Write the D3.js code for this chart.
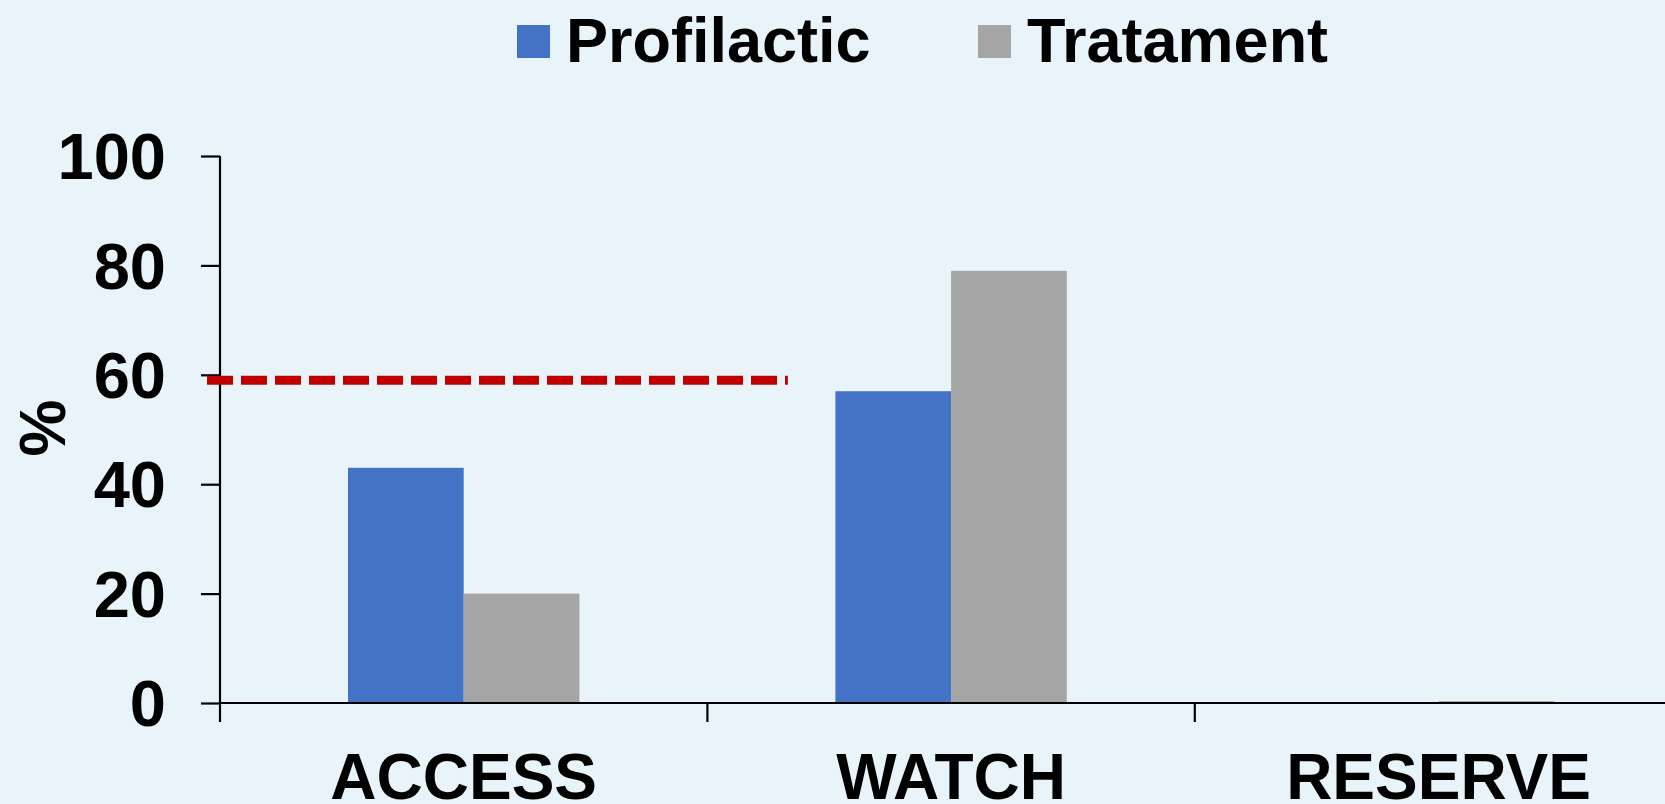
<!DOCTYPE html>
<html>
<head>
<meta charset="utf-8">
<script src="https://cdn.jsdelivr.net/npm/d3@7"></script>
<style>
  html, body { margin: 0; padding: 0; background: #E9F4FA; overflow: hidden; }
  svg { display: block; font-family: "Liberation Sans", Arial, sans-serif; font-weight: bold; }
</style>
</head>
<body>
<svg id="chart" width="1665" height="804"></svg>
<script>
const categories = ["ACCESS", "WATCH", "RESERVE"];
const seriesNames = ["Profilactic", "Tratament"];
const profilactic = [43, 57, 0];
const tratament = [20, 79, 0.35];
const yTicks = [0, 20, 40, 60, 80, 100];
const refValue = 59;
const colors = ["#4472C4", "#A5A5A5"];

const W = 1665, H = 804;
const svg = d3.select("#chart");
svg.append("rect").attr("width", W).attr("height", H).attr("fill", "#E9F4FA");

const plotLeft = 220, bandW = 487.4;
const x = d3.scaleBand().domain(categories).range([plotLeft, plotLeft + bandW * categories.length]).padding(0);
const y = d3.scaleLinear().domain([0, 100]).range([703, 156]);
const xs = d3.scaleBand().domain(seriesNames).range([0, x.bandwidth()]).paddingInner(0).paddingOuter(1.106);

const rows = categories.map((c, i) => ({ cat: c, vals: [profilactic[i], tratament[i]] }));

// bars
const g = svg.append("g");
rows.forEach(r => {
  r.vals.forEach((v, j) => {
    if (v <= 0) return;
    g.append("rect")
      .attr("x", x(r.cat) + xs(seriesNames[j]))
      .attr("y", y(v))
      .attr("width", xs.bandwidth())
      .attr("height", y(0) - y(v))
      .attr("fill", colors[j]);
  });
});

// y axis
const yAxis = svg.append("g").attr("transform", `translate(${plotLeft},0)`)
  .call(d3.axisLeft(y).tickValues(yTicks).tickSize(19).tickPadding(35).tickFormat(d3.format("d")));
yAxis.select(".domain").attr("stroke", "#000").attr("stroke-width", 2.2).attr("d", `M0,${y(100)}V${y(0)}`);
yAxis.selectAll(".tick line").attr("stroke", "#000").attr("stroke-width", 2.2);
yAxis.selectAll(".tick text").attr("font-size", 65).attr("font-weight", "bold").attr("fill", "#000")
  .attr("font-family", "Liberation Sans, Arial, sans-serif").attr("dy", "0.35em");

// x axis
const xAxisG = svg.append("g").attr("transform", `translate(0,${y(0)})`);
xAxisG.append("line").attr("x1", plotLeft).attr("x2", x.range()[1]).attr("y1", 0).attr("y2", 0)
  .attr("stroke", "#000").attr("stroke-width", 2.2);
categories.forEach(c => {
  xAxisG.append("line").attr("x1", x(c)).attr("x2", x(c)).attr("y1", 0).attr("y2", 19)
    .attr("stroke", "#000").attr("stroke-width", 2.2);
  xAxisG.append("text").attr("x", x(c) + x.bandwidth() / 2).attr("y", 96)
    .attr("text-anchor", "middle").attr("font-size", 64).attr("fill", "#000").text(c);
});

// reference dashed line
svg.append("line")
  .attr("x1", plotLeft - 13)
  .attr("x2", x("WATCH") + x.bandwidth() * 0.165)
  .attr("y1", y(refValue)).attr("y2", y(refValue))
  .attr("stroke", "#C00000").attr("stroke-width", 9).attr("stroke-dasharray", "26,8");

// y title
svg.append("text").attr("transform", "translate(65,428) rotate(-90)")
  .attr("text-anchor", "middle").attr("font-size", 64).attr("fill", "#000").text("%");

// legend
const legendX = [517, 978];
seriesNames.forEach((s, j) => {
  svg.append("rect").attr("x", legendX[j]).attr("y", 25).attr("width", 33).attr("height", 33).attr("fill", colors[j]);
  svg.append("text").attr("x", legendX[j] + 49).attr("y", 62).attr("font-size", 63).attr("fill", "#000").text(s);
});
</script>
</body>
</html>
